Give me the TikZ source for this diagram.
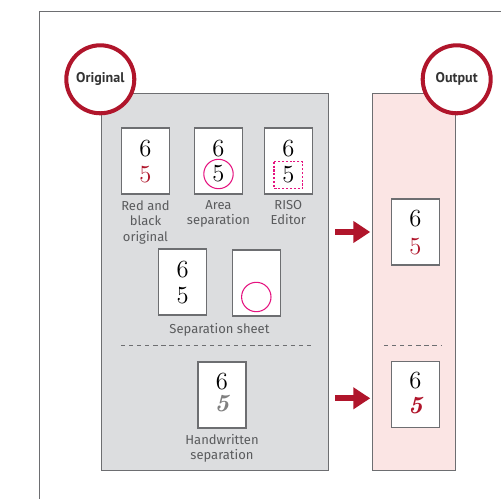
\documentclass[tikz,border=0pt]{standalone}
\usepackage{fontspec}
\setsansfont{Fira Sans}
\newfontfamily\badgefont{PT Sans}
\usetikzlibrary{positioning,calc,arrows.meta}
\definecolor{risored}{HTML}{B0152B}
\definecolor{risopink}{HTML}{E5127F}
\definecolor{boxgray}{HTML}{DCDDDF}
\definecolor{boxpink}{HTML}{FBE5E4}
\definecolor{edgegray}{HTML}{6D6E71}
\definecolor{labelgray}{HTML}{5A5B5D}

\begin{document}
\begin{tikzpicture}[x=0.02cm, y=-0.02cm,
    panel/.style={draw=edgegray, line width=0.6pt, rectangle, minimum height=7.54cm, inner sep=0pt},
    paper/.style={draw=edgegray, fill=white, line width=0.6pt, minimum width=0.96cm, minimum height=1.32cm, inner sep=0pt},
    digit/.style={font=\fontsize{14}{14}\selectfont, inner sep=0pt},
    caption/.style={font=\sffamily\fontsize{7.4}{8.8}\selectfont, text=labelgray, align=center, inner sep=0pt},
    badge/.style={circle, draw=risored, line width=2.3pt, fill=white, minimum size=1.36cm, inner sep=0pt,
        font=\badgefont\bfseries\fontsize{8}{8}\selectfont, text=black!80},
    flow/.style={draw=risored, line width=0.12cm, -{Triangle[length=0.34cm, width=0.42cm]}, shorten >=0.03cm},
    divider/.style={draw=edgegray, line width=0.45pt, dash pattern=on 2.4pt off 2.2pt}]
    \useasboundingbox (0,0) rectangle (501,499);
    \draw[edgegray, line width=0.7pt] (39.5,499) |- (501,11.5);

    % panels
    \node [panel, fill=boxgray, minimum width=4.548cm] (orig) at (215,281.8) {};
    \node [panel, fill=boxpink, minimum width=1.66cm] (out) at (413.8,281.8) {};

    % top row of originals
    \foreach \name/\x in {red/145.5, area/218.5, riso/288.3} {
        \node [paper] (\name) at (\x,161) {};
        \node [digit] at ($(\name.center)+(0,-12)$) {6};
    }
    \node [digit, text=risored] at ($(red.center)+(0,14)$) {5};
    \node [digit] (areafive) at ($(area.center)+(0,13)$) {5};
    \draw [risopink, line width=0.6pt] (areafive) circle (14.7);
    \node [digit] (risofive) at ($(riso.center)+(0,14)$) {5};
    \draw [risopink, line width=0.7pt, dash pattern=on 1.2pt off 1pt]
        ($(risofive)+(-14.3,-13.3)$) rectangle ($(risofive)+(14.3,13.3)$);
    \node [caption, below=0.11cm of red] {Red and\\black\\original};
    \node [caption, below=0.11cm of area] {Area\\separation};
    \node [caption, below=0.11cm of riso] {RISO\\Editor};

    % separation sheet
    \node [paper] (sheet) at (182.7,282) {};
    \node [paper] (blank) at (256.3,283) {};
    \node [digit] at ($(sheet.center)+(0,-12)$) {6};
    \node [digit] at ($(sheet.center)+(0,14)$) {5};
    \draw [risopink, line width=0.6pt] ($(blank.center)+(0,14)$) circle (14.7);
    \node [caption, below=0.13cm] at ($(sheet.south)!0.5!(blank.south)$) {Separation sheet};
    \draw [divider] (121,345.7) -- (313,345.7);

    % handwritten
    \node [paper] (hand) at (222,395) {};
    \node [digit] at ($(hand.center)+(0,-13)$) {6};
    \node [digit, text=gray] at ($(hand.center)+(0,9)$) {\bfseries\itshape 5};
    \node [caption, below=0.11cm of hand] {Handwritten\\separation};

    % output
    \node [paper] (outred) at (415.3,232) {};
    \node [digit] at ($(outred.center)+(0,-13.5)$) {6};
    \node [digit, text=risored] at ($(outred.center)+(0,14.5)$) {5};
    \draw [divider] (384,345) -- (441,345);
    \node [paper] (outhand) at (415.3,394.7) {};
    \node [digit] at ($(outhand.center)+(0,-14)$) {6};
    \node [digit, text=risored] at ($(outhand.center)+(0,11)$) {\bfseries\itshape 5};

    \draw [flow] ([xshift=0.12cm]orig.east |- outred.west) -- (out.west |- outred.west);
    \draw [flow] ([xshift=0.12cm]orig.east |- 0,398.3) -- (out.west |- 0,398.3);

    % badges
    \node [badge] (origbadge) at (100.3,79.3) {Original};
    \node [badge] (outbadge) at (456.7,79.3) {Output};
\end{tikzpicture}
\end{document}
